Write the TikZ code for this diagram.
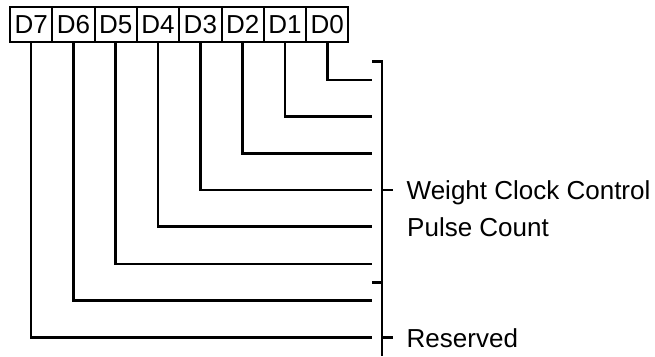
\documentclass[tikz,border=0pt]{standalone}
\usepackage{fontspec}
\setmainfont{Liberation Sans}
\tikzset{
  bitbox/.style={draw, line width=2pt, minimum width=42.3pt, minimum height=35pt, inner sep=0pt, font=\fontsize{26}{28}\selectfont},
  wire/.style={line width=2.6pt},
  lbl/.style={inner sep=0pt, font=\fontsize{26}{30}\selectfont}
}
\begin{document}
\begin{tikzpicture}[x=1pt,y=-1pt]
\useasboundingbox (0,0) rectangle (655,356);
% bit boxes
\foreach \n [count=\i from 0] in {7,6,5,4,3,2,1,0}{
  \node[bitbox] (b\n) at ({31.15+\i*42.3},24.5) {D\n};
}
% line ends
\coordinate (e0) at (372,80);
\coordinate (e1) at (372,116.7);
\coordinate (e2) at (372,153.3);
\coordinate (e3) at (372,190);
\coordinate (e4) at (372,226.7);
\coordinate (e5) at (372,264);
\coordinate (e6) at (372,300.7);
\coordinate (e7) at (372,337.5);
\foreach \n in {0,...,7}{
  \draw[wire] (b\n.south) |- (e\n);
}
% bracket
\coordinate (bt) at (372,61.7);
\coordinate (bb) at (382,356);
\draw[wire] (bt) -| (bb);
\coordinate (tk) at (372,282.7);
\draw[wire] (tk) -- (tk -| bb);
\coordinate (r3) at (393,190);
\coordinate (r7) at (393,337.5);
\draw[wire] (r3 -| bb) -- (r3);
\draw[wire] (r7 -| bb) -- (r7);
% labels
\node[lbl, anchor=base west] (wcc) at (406.5,199) {Weight Clock Control};
\node[lbl, anchor=base west] (pc) at (407,236) {Pulse Count};
\node[lbl, anchor=base west] (res) at (406.5,347) {Reserved};
\end{tikzpicture}
\end{document}
